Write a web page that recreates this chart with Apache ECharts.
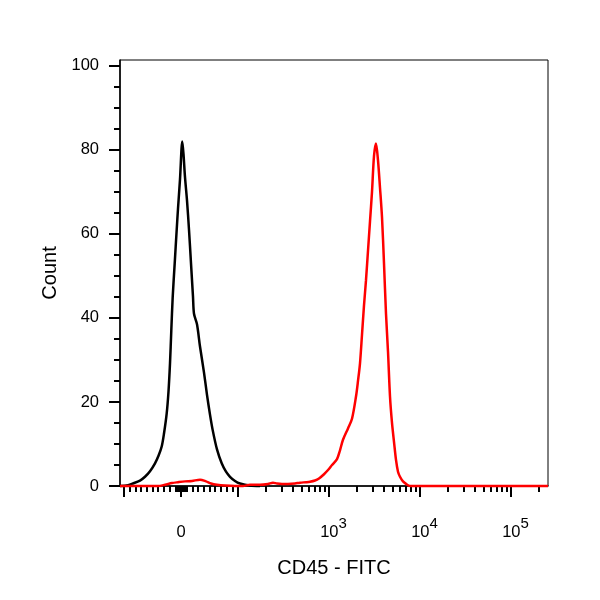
<!DOCTYPE html>
<html>
<head>
<meta charset="utf-8">
<script src="https://cdn.jsdelivr.net/npm/echarts@6/dist/echarts.min.js"></script>
<style>
  body { margin: 0; background: #fff; }
  #main { width: 600px; height: 600px; }
</style>
</head>
<body>
<div id="main"></div>
<script>
// histogram channels (display units, 0..428) and counts
const blackX = [0, 8, 13, 20, 25, 30, 35, 38.5, 41.7, 44, 46.7, 48.5, 50, 51.3, 52.7, 54.7, 56.7, 58, 60, 62.3,
  63.5, 65, 67, 69, 71, 73, 74, 77, 80, 84, 87, 90, 92.7, 97, 101.7, 106, 110, 115, 120, 130, 140]
const blackY = [0, 0.2, 0.6, 1.3, 2.2, 3.5, 5.4, 7.2, 9.4, 12.5, 17.3, 22.5, 29.2, 37, 45, 53, 61, 66, 73, 82,
  79, 73.5, 68, 61, 53, 45, 41, 38.5, 33.2, 27, 21.7, 17, 13.3, 8.7, 5.4, 3.4, 2.2, 1.2, 0.6, 0.1, 0]

const redX = [0, 38, 45, 52, 58, 65, 72, 80, 86, 91, 97, 105, 115, 123, 130, 140, 148, 153, 157, 162, 168, 175,
  180, 186, 190, 195, 199, 204, 208, 212, 217, 220, 223, 228, 232, 236, 238, 240, 242, 244, 246, 248, 250, 252,
  254, 256, 258, 260, 262, 264, 266, 268, 270, 272, 274, 276, 278, 280, 283, 286, 290, 428]
const redY = [0, 0, 0.3, 0.7, 0.9, 1.1, 1.2, 1.5, 1.1, 0.6, 0.3, 0.1, 0, 0, 0.3, 0.3, 0.5, 0.8, 0.6, 0.5, 0.5, 0.6,
  0.8, 0.9, 1.0, 1.3, 1.8, 2.8, 3.8, 5, 6.4, 8.5, 11, 13.7, 16, 21.3, 25, 29.2, 36, 43, 49, 56, 63, 70,
  78.5, 81.5, 77.5, 71, 64, 53, 41, 32, 21.3, 15, 10.5, 6.2, 3.4, 2.2, 1.1, 0.5, 0, 0]

// axis ticks, in fluorescence units
const xMajorTicks = [-100, 0, 100, 1000, 10000, 100000]
const xLabelValues = [0, 1000, 10000, 100000]
const xLabelPowers = [null, 3, 4, 5]
const xMinorSteps = [1, 2, 3, 4, 5, 6, 7, 8, 9]
const yMajorTicks = [0, 20, 40, 60, 80, 100]
const yMinorTicks = [5, 10, 15, 25, 30, 35, 45, 50, 55, 65, 70, 75, 85, 90, 95]

// biexponential-ish display transform: linear near zero, log above 100
function toDisplay(v) {
  if (Math.abs(v) <= 100) return 61 + 0.57 * v
  const s = v < 0 ? -1 : 1
  return 61 + s * (57 + 91 * Math.log10(Math.abs(v) / 100))
}

const xMinorTicks = []
xMinorSteps.forEach(m => { xMinorTicks.push(m, -m, m * 10, -m * 10) })
xMinorSteps.slice(1).forEach(m => { xMinorTicks.push(m * 100, m * 1000, m * 10000) })
xMinorTicks.push(200000)

const font = "'Liberation Sans', Arial, sans-serif"
const tickStyle = { color: '#000', width: 2 }

const chart = echarts.init(document.getElementById('main'))
chart.setOption({
  animation: false,
  grid: { left: 120, right: 52, top: 60, bottom: 114, show: true, borderColor: '#000', borderWidth: 1 },
  xAxis: [
    {
      type: 'value', min: 0, max: 428,
      name: 'CD45 - FITC', nameLocation: 'middle', nameGap: 72,
      nameTextStyle: { fontSize: 20, fontFamily: font, color: '#000' },
      axisLine: { onZero: false, lineStyle: { color: '#000', width: 1.5 } },
      splitLine: { show: false },
      axisTick: { customValues: xMajorTicks.map(toDisplay), length: 11, lineStyle: tickStyle },
      axisLabel: {
        customValues: xLabelValues.map(toDisplay),
        margin: 30,
        formatter: val => {
          const i = xLabelValues.findIndex(v => Math.abs(toDisplay(v) - val) < 1e-6)
          const p = xLabelPowers[i]
          return p == null ? '{b|0}' : '{sp|}{b|10}{sup|' + p + '}'
        },
        rich: {
          b: { fontSize: 16.5, lineHeight: 32, fontFamily: font, color: '#000' },
          sup: { fontSize: 15, lineHeight: 12, verticalAlign: 'top', fontFamily: font, color: '#000' },
          sp: { width: 9 }
        }
      }
    },
    {
      type: 'value', min: 0, max: 428, position: 'bottom',
      axisLine: { show: false },
      splitLine: { show: false },
      axisTick: { customValues: xMinorTicks.map(toDisplay), length: 6, lineStyle: tickStyle },
      axisLabel: { show: false }
    }
  ],
  yAxis: [
    {
      type: 'value', min: 0, max: 101.4,
      name: 'Count', nameLocation: 'middle', nameGap: 58, nameRotate: 90,
      nameTextStyle: { fontSize: 20, fontFamily: font, color: '#000' },
      axisLine: { show: true, lineStyle: { color: '#000', width: 1.5 } },
      splitLine: { show: false },
      axisTick: { customValues: yMajorTicks, length: 11, lineStyle: tickStyle },
      axisLabel: { customValues: yMajorTicks, margin: 21, fontSize: 16.5, fontFamily: font, color: '#000' }
    },
    {
      type: 'value', min: 0, max: 101.4, position: 'left',
      axisLine: { show: false },
      splitLine: { show: false },
      axisTick: { customValues: yMinorTicks, length: 6, lineStyle: tickStyle },
      axisLabel: { show: false }
    }
  ],
  series: [
    {
      type: 'line', xAxisIndex: 0, yAxisIndex: 0, clip: false,
      data: blackX.map((x, i) => [x, blackY[i]]),
      showSymbol: false, smooth: 0.3,
      lineStyle: { color: '#000', width: 2.5 }
    },
    {
      type: 'line', xAxisIndex: 0, yAxisIndex: 0, clip: false,
      data: redX.map((x, i) => [x, redY[i]]),
      showSymbol: false, smooth: 0.3,
      lineStyle: { color: '#ff0000', width: 2.5 }
    }
  ]
})
</script>
</body>
</html>
